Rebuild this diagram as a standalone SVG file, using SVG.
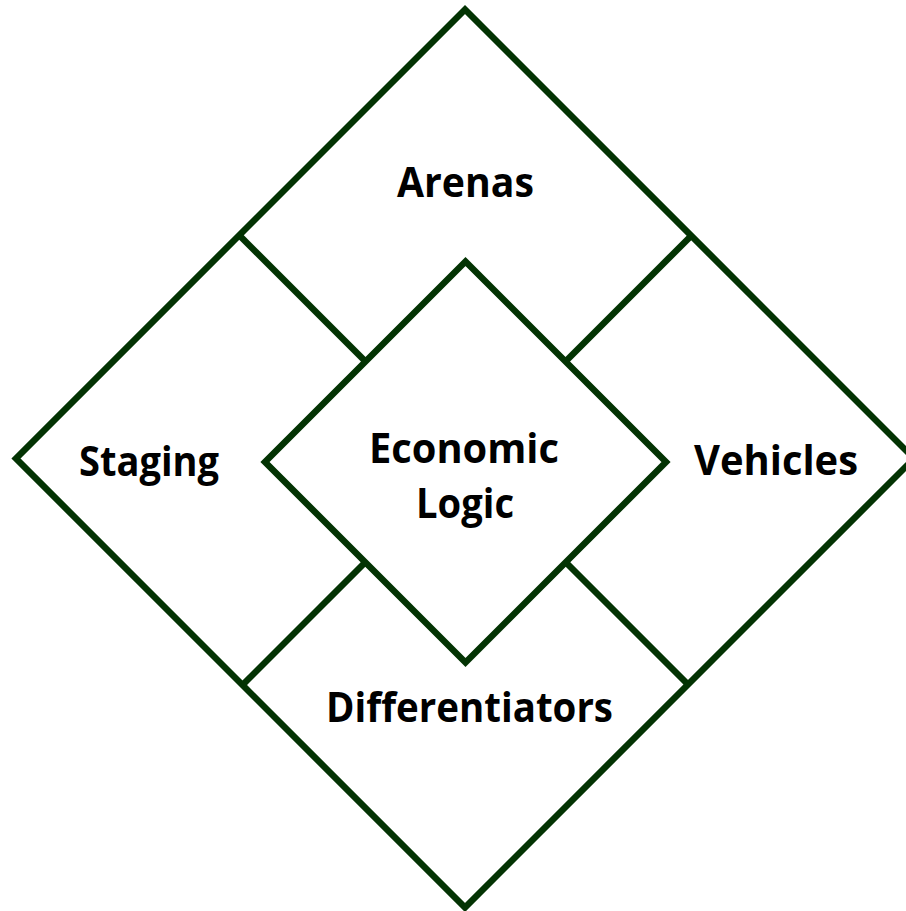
<svg xmlns="http://www.w3.org/2000/svg" width="906" height="911" viewBox="0 0 906 911">
  <style>
    .frame { fill: #ffffff; stroke: #033303; stroke-width: 6.5; stroke-linejoin: miter; }
    .link { stroke: #033303; stroke-width: 6.5; stroke-linecap: butt; }
    .label { font-family: "Open Sans", "Liberation Sans", sans-serif; font-weight: bold; font-size: 42px; fill: #000000; text-anchor: middle; }
  </style>
  <rect width="906" height="911" fill="#ffffff"/>

  <!-- outer frame diamond -->
  <g id="outer">
    <polygon class="frame" points="465,9.5 914,458.5 465,907.5 16,458.5"/>
  </g>

  <!-- dividers between the outer quadrants -->
  <g id="connectors">
    <line class="link" x1="240" y1="236" x2="366" y2="362"/>
    <line class="link" x1="691" y1="236" x2="565" y2="362"/>
    <line class="link" x1="242.5" y1="685" x2="366" y2="561.5"/>
    <line class="link" x1="688" y1="684.5" x2="565" y2="561.5"/>
  </g>

  <!-- centre diamond -->
  <g id="economic-logic">
    <polygon class="frame" points="465.5,261.5 666,462 465.5,662.5 265,462"/>
    <text class="label" x="464" y="463" textLength="190" lengthAdjust="spacingAndGlyphs">Economic</text>
    <text class="label" x="465" y="518" textLength="98" lengthAdjust="spacingAndGlyphs">Logic</text>
  </g>

  <g id="arenas">
    <text class="label" x="465.5" y="197" textLength="137" lengthAdjust="spacingAndGlyphs">Arenas</text>
  </g>

  <g id="staging">
    <text class="label" x="149" y="476" textLength="140" lengthAdjust="spacingAndGlyphs">Staging</text>
  </g>

  <g id="vehicles">
    <text class="label" x="776" y="475" textLength="164" lengthAdjust="spacingAndGlyphs">Vehicles</text>
  </g>

  <g id="differentiators">
    <text class="label" x="469.5" y="722" textLength="287" lengthAdjust="spacingAndGlyphs">Differentiators</text>
  </g>
</svg>
